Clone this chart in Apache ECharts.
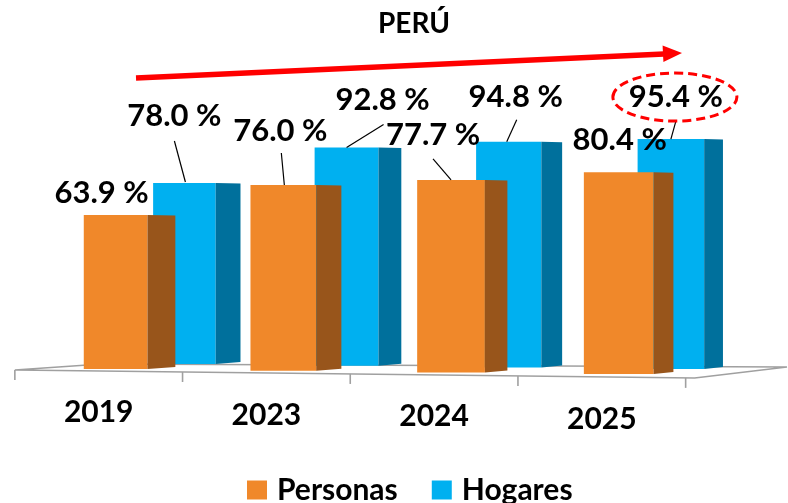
<!DOCTYPE html>
<html>
<head>
<meta charset="utf-8">
<script src="https://cdn.jsdelivr.net/npm/echarts@6/dist/echarts.min.js"></script>
<style>
html,body{margin:0;padding:0;background:#fff;}
#chart{width:788px;height:503px;}
</style>
</head>
<body>
<div id="chart"></div>
<script>
// ---- data ----
const years = ['2019', '2023', '2024', '2025'];
const personas = [63.9, 76.0, 77.7, 80.4];
const hogares = [78.0, 92.8, 94.8, 95.4];
const seriesNames = ['Personas', 'Hogares'];
const titleText = 'PERÚ';
const highlightIndex = 3; // Hogares 2025 circled

// ---- style ----
const FONT = 'Lato';
const orangeFront = '#F0882A', orangeSide = '#98551B';
const blueFront = '#00B0F0', blueSide = '#00709C';

// label offsets (relative to top-centre of the bar front), and leader lines
const personasLabelLayout = [
  {dx: -14, dy: -22},
  {dx: -3, dy: -54, line: [[-2, -32], [1, 0]]},
  {dx: -18, dy: -45, line: [[-18, -21], [0, 0]]},
  {dx: 1, dy: -32}
];
const hogaresLabelLayout = [
  {dx: -10, dy: -67, line: [[-10, -42], [1, -1]]},
  {dx: 36, dy: -48, line: [[37, -23], [0, 0]]},
  {dx: 7, dy: -45, line: [[8, -22], [-2, 0]]},
  {dx: 5, dy: -42, line: [[5, -18], [0, 0]]}
];

function fmt(v) { return v.toFixed(1) + ' %'; }

function barRender(isBlue) {
  return function (params, api) {
    const i = params.dataIndex;
    const v = api.value(1);
    const c0 = api.coord([i, 0]);
    const cv = api.coord([i, v]);
    const band = api.size([1, 0])[0];
    const persp = isBlue ? 0.963 * (1 + 0.013 * i) : (1 + 0.014 * i);
    const baseY = c0[1] + 1.7 * i + (isBlue ? -5 : 0);
    const h = (c0[1] - cv[1]) * persp;
    const orangeCx = c0[0] + band * 0.101;
    const cx = isBlue ? orangeCx + band * (0.41 - 0.033 * i) : orangeCx;
    const fw = isBlue ? band * (0.373 + 0.008 * i) : band * (0.38 + 0.012 * i);
    const sw = isBlue ? band * (0.148 - 0.012 * i) : band * (0.166 - 0.016 * i);
    const left = cx - fw / 2, right = cx + fw / 2, top = baseY - h;
    const children = [
      {type: 'rect', shape: {x: left, y: top, width: fw, height: h},
       style: {fill: isBlue ? blueFront : orangeFront}},
      {type: 'polygon', shape: {points: [[right, top], [right + sw, top + 0.5], [right + sw, baseY - 2], [right, baseY]]},
       style: {fill: isBlue ? blueSide : orangeSide}}
    ];
    const lay = (isBlue ? hogaresLabelLayout : personasLabelLayout)[i];
    if (lay.line) {
      children.push({type: 'line', shape: {x1: cx + lay.line[0][0], y1: top + lay.line[0][1], x2: cx + lay.line[1][0], y2: top + lay.line[1][1]},
        style: {stroke: '#000', lineWidth: 1.2}});
    }
    children.push({type: 'text', x: cx + lay.dx, y: top + lay.dy,
      style: {text: fmt(v), fill: '#000', font: 'bold 31px ' + FONT, align: 'center', verticalAlign: 'middle'}});
    if (isBlue && i === highlightIndex) {
      children.push({type: 'ellipse', shape: {cx: cx + lay.dx - 1, cy: top + lay.dy, rx: 62, ry: 24},
        style: {fill: 'none', stroke: '#FF0000', lineWidth: 3, lineDash: [9, 5]}});
    }
    return {type: 'group', children: children};
  };
}

function floorRender(params, api) {
  const cs = params.coordSys;
  const x0 = cs.x, x1 = cs.x + cs.width, base = cs.y + cs.height;
  const band = api.size([1, 0])[0];
  const A = [x0, base + 1], B = [x1 + 9, base + 9], C = [788 - 1, base - 2], D = [x0 + 87, base - 5];
  const children = [
    {type: 'polygon', shape: {points: [A, B, C, D]}, style: {fill: '#fff', stroke: '#A0A0A0', lineWidth: 1.6}}
  ];
  for (let k = 0; k <= years.length; k++) {
    const tx = api.coord([k, 0])[0] - band / 2;
    const t = (tx - A[0]) / (B[0] - A[0]);
    const ty = A[1] + t * (B[1] - A[1]);
    children.push({type: 'line', shape: {x1: tx, y1: ty, x2: tx, y2: ty + 10}, style: {stroke: '#A0A0A0', lineWidth: 1.6}});
  }
  return {type: 'group', children: children};
}

const chart = echarts.init(document.getElementById('chart'), null, {renderer: 'canvas'});
const labelPad = [0, 3, 4, 7];
const rich = {};
labelPad.forEach((p, k) => { rich['y' + k] = {fontFamily: FONT, fontWeight: 'bold', fontSize: 30, color: '#000', padding: [p, 0, 0, 0]}; });

chart.setOption({
  animation: false,
  backgroundColor: '#fff',
  title: {
    text: titleText, left: 373, top: 5,
    textStyle: {fontFamily: FONT, fontWeight: 'bold', fontSize: 28, color: '#000'}
  },
  legend: {
    data: seriesNames, left: 242, top: 470, itemWidth: 20, itemHeight: 19, itemGap: 34, icon: 'rect',
    textStyle: {fontFamily: FONT, fontWeight: 'bold', fontSize: 30, color: '#000', padding: [0, 0, 0, 5]}
  },
  grid: {left: 14.85, right: 102.35, top: 128, bottom: 134},
  xAxis: {
    type: 'category', data: years,
    axisLine: {show: false}, axisTick: {show: false},
    axisLabel: {margin: 28, formatter: (val, idx) => '{y' + idx + '|' + val + '}', rich: rich}
  },
  yAxis: {type: 'value', min: 0, max: 100, show: false, splitLine: {show: false}},
  graphic: [
    {type: 'line', shape: {x1: 136, y1: 78, x2: 664, y2: 54}, style: {stroke: '#FF0000', lineWidth: 5.5}},
    {type: 'polygon', shape: {points: [[682, 53], [662.6, 45.5], [663.4, 62]]}, style: {fill: '#FF0000'}}
  ],
  series: [
    {type: 'custom', name: 'floor', z: 1, renderItem: floorRender, data: [[0, 0]], encode: {x: 0, y: 1}, silent: true},
    {type: 'custom', name: seriesNames[1], z: 2, itemStyle: {color: blueFront}, renderItem: barRender(true),
     data: hogares.map((v, i) => [i, v]), encode: {x: 0, y: 1}},
    {type: 'custom', name: seriesNames[0], z: 3, itemStyle: {color: orangeFront}, renderItem: barRender(false),
     data: personas.map((v, i) => [i, v]), encode: {x: 0, y: 1}}
  ]
});
</script>
</body>
</html>
